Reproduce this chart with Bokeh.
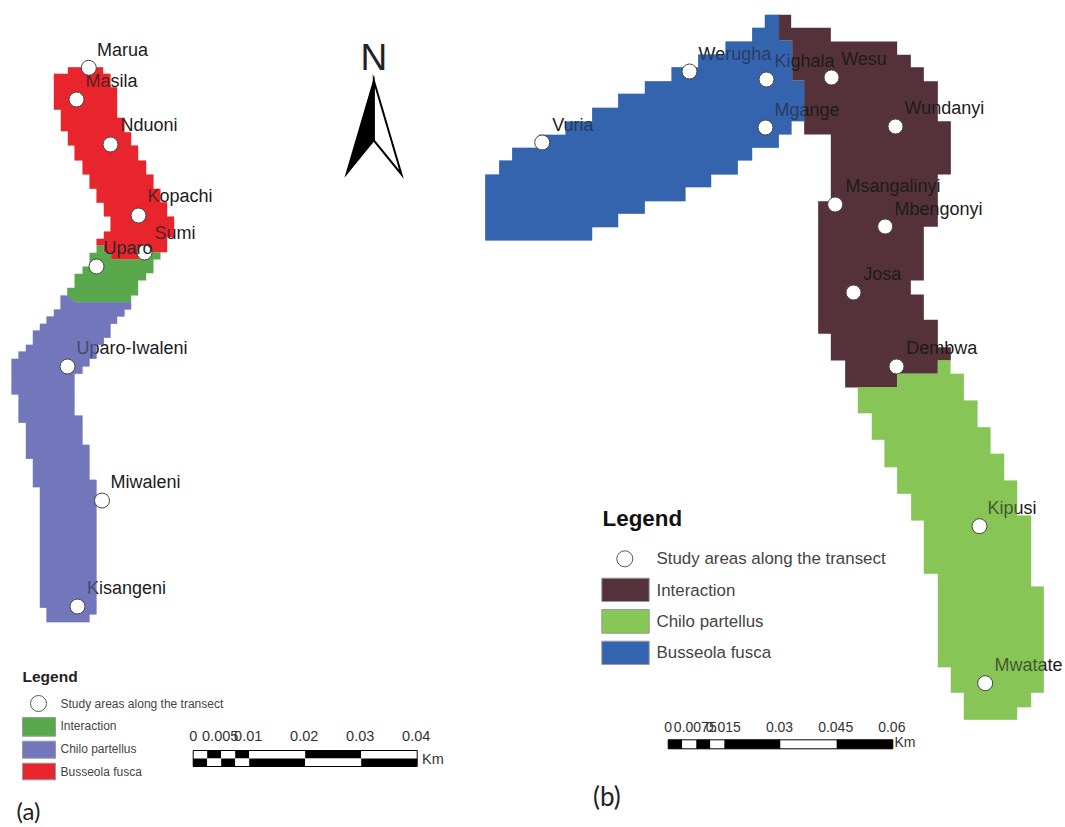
from bokeh.plotting import figure
from bokeh.core.properties import value
from bokeh.embed import file_html
from bokeh.resources import INLINE

# ---- map outlines, traced as (x, y) on the picture ----
BUSSEOLA_A = [(202,110),(308,110),(308,130),(330,130),(330,170),(350,170),(350,262),(372,262),(372,305),(392,305),(392,345),(413,345),(413,390),(437,390),(437,432),(459,432),(459,475),(480,475),(480,515),(500,515),(500,558),(521,558),(521,620),(500,620),(500,665),(415,665),(415,687),(332,687),(332,665),(310,665),(310,645),(288,645),(288,625),(310,625),(310,603),(330,603),(330,558),(310,558),(310,517),(288,517),(288,475),(267,475),(267,432),(246,432),(246,390),(222,390),(222,345),(202,345),(202,302),(181,302),(181,238),(160,238),(160,130),(202,130)]
INTERACTION_A = [(288,645),(310,645),(310,665),(332,665),(332,687),(415,687),(415,665),(480,665),(480,687),(459,687),(459,728),(437,728),(437,750),(413,750),(413,795),(392,795),(392,815),(225,815),(200,795),(200,772),(222,772),(222,730),(246,730),(246,708),(267,708),(267,667),(288,667)]
CHILO_A = [(180,15),(202,15),(225,35),(392,35),(392,57),(372,57),(372,78),(350,78),(350,100),(330,100),(330,142),(310,142),(310,163),(288,163),(288,205),(267,205),(267,228),(246,228),(246,250),(222,250),(222,375),(246,375),(246,463),(267,463),(267,568),(288,568),(288,972),(267,972),(267,995),(138,995),(138,952),(118,952),(118,590),(97,590),(97,505),(76,505),(76,397),(54,397),(54,312),(33,312),(33,205),(54,205),(54,183),(76,183),(76,163),(97,163),(97,120),(118,120),(118,100),(138,100),(138,78),(160,78),(160,57),(180,57)]
BUSSEOLA_B = [(44,705),(44,507),(86,507),(86,465),(125,465),(125,427),(205,427),(205,388),(285,388),(285,348),(365,348),(365,307),(443,307),(443,265),(523,265),(523,227),(603,227),(603,185),(683,185),(683,147),(765,147),(765,108),(845,108),(845,67),(883,67),(883,28),(927,28),(927,105),(965,105),(965,225),(1002,225),(1002,347),(963,347),(963,387),(925,387),(925,427),(845,427),(845,465),(802,465),(802,507),(722,507),(722,545),(645,545),(645,587),(523,587),(523,625),(443,625),(443,665),(365,665),(365,705)]
INTERACTION_B = [(55,28),(92,28),(92,67),(211,67),(211,108),(410,108),(410,148),(451,148),(451,185),(490,185),(490,227),(532,227),(532,347),(571,347),(571,507),(532,507),(532,664),(490,664),(490,825),(451,825),(451,867),(490,867),(490,943),(532,943),(532,1025),(571,1025),(571,1065),(532,1065),(532,1105),(410,1105),(410,1146),(254,1146),(254,1065),(211,1065),(211,985),(173,985),(173,587),(211,587),(211,387),(131,387),(131,225),(95,225),(95,105),(55,105)]
CHILO_B = [(52,110),(170,110),(170,70),(292,70),(292,30),(330,30),(330,70),(370,70),(370,150),(411,150),(411,230),(450,230),(450,310),(491,310),(491,390),(530,390),(530,495),(572,495),(572,708),(610,708),(610,1027),(572,1027),(572,1070),(530,1070),(530,1108),(370,1108),(370,1027),(331,1027),(331,950),(292,950),(292,670),(250,670),(250,510),(212,510),(212,430),(170,430),(170,350),(132,350),(132,268),(94,268),(94,188),(52,188)]

ARROW_LEFT = [(373.3,80),(345.7,174),(373.3,140)]
ARROW_RIGHT = [(373.3,80),(401,174),(373.3,140)]

# ---- study areas: name, marker x, marker y, label x, label baseline y ----
NAMES_A = ["Marua","Masila","Nduoni","Kopachi","Sumi","Uparo-Iwaleni","Miwaleni","Kisangeni"]
MX_A = [88.3,76,110,138,144,67,101.5,77]
MY_A = [67.3,99,144,215,252,366,500,606]
LX_A = [96.5,85,120,147,154,76,110,86.5]
LY_A = [56,87.3,131,202.7,239,354,488,594]
TOP_NAME_A, TOP_MX_A, TOP_MY_A, TOP_LX_A, TOP_LY_A = "Uparo", 96, 266, 103, 254

NAMES_B = ["Vuria","Werugha","Kighala","Mgange","Wesu","Wundanyi","Msangalinyi","Mbengonyi","Josa","Dembwa","Kipusi","Mwatate"]
MX_B = [541.7,689,766,765,831,895,834.7,884.7,853,896,979,984.7]
MY_B = [142,71,79,127,77,126,204,226,292,366,525.7,682.7]
LX_B = [551.7,698,774,774,840.7,904,845,894,862.7,905.7,987,994]
LY_B = [131,60,67,116,65.7,114,192.7,215,280,354,514,671.7]

LEGEND_LABELS = ["Study areas along the transect","Interaction","Chilo partellus","Busseola fusca"]

# ---- scale bars (km) ----
SCALE_A_EDGES = [0,0.0025,0.005,0.0075,0.01,0.02,0.03,0.04]
SCALE_A_TICKS = [0,0.005,0.01,0.02,0.03,0.04]
SCALE_A_TEXT = ["0","0.005","0.01","0.02","0.03","0.04"]
SCALE_B_EDGES = [0,0.00375,0.0075,0.01125,0.015,0.03,0.045,0.06]
SCALE_B_TICKS = [0,0.0075,0.015,0.03,0.045,0.06]
SCALE_B_TEXT = ["0","0.0075","0.015","0.03","0.045","0.06"]

RED, GREEN_A, PURPLE = "#E8262D", "#5AA84C", "#7276BB"
BLUE, BROWN, GREEN_B = "#3564B0", "#55323A", "#87C657"
TXT = "#1c1c1c"
FONT = value("Liberation Sans")
BASELINE_SHIFT = 0.38

W, H = 1065, 827
p = figure(width=W, height=H, x_range=(0, W), y_range=(H, 0),
           output_backend="svg", toolbar_location=None, min_border=0,
           outline_line_color=None, background_fill_color="white", border_fill_color="white")
p.axis.visible = False
p.grid.visible = False


def poly(points, ox, oy, color, alpha=1.0):
    xs = [a / 3 + ox for a, _ in points]
    ys = [b / 3 + oy for _, b in points]
    p.patch(xs, ys, fill_color=color, fill_alpha=alpha, line_color=None)


def label(x, y, t, size, color=TXT, style="normal", font=FONT, align="left"):
    p.text([x], [y - BASELINE_SHIFT * size], text=[t], text_font=font, text_font_size=f"{size}px", text_color=color,
           text_baseline="alphabetic", text_align=align, text_font_style=style)


def swatch(x0, x1, y0, y1, color):
    p.quad(left=[x0], right=[x1], top=[y0], bottom=[y1], fill_color=color, line_color="#999999", line_width=1)


shapes = [(BUSSEOLA_A,0,30,RED,0.3),(INTERACTION_A,0,30,GREEN_A,0.0),(CHILO_A,0,290,PURPLE,0.5),
          (BUSSEOLA_B,470,5,BLUE,0.45),(INTERACTION_B,760,5,BROWN,0.0),(CHILO_B,840,350,GREEN_B,0.35)]

for pts, ox, oy, c, _ in shapes:
    poly(pts, ox, oy, c)

# labels sit under a veil of the region colour, so they tint where they overlap a region
for names, xs, ys in ((NAMES_A, LX_A, LY_A), (NAMES_B, LX_B, LY_B)):
    for n, x, y in zip(names, xs, ys):
        label(x, y, n, 18)

for pts, ox, oy, c, veil in shapes:
    if veil:
        poly(pts, ox, oy, c, veil)

p.scatter(MX_A + [TOP_MX_A] + MX_B, MY_A + [TOP_MY_A] + MY_B, size=15, marker="circle",
          fill_color="white", line_color="#444444", line_width=1)
label(TOP_LX_A, TOP_LY_A, TOP_NAME_A, 18, color="#2a2a2a")

# north arrow
label(360, 70.7, "N", 37, color="#222222")
p.patch([a for a, _ in ARROW_RIGHT], [b for _, b in ARROW_RIGHT], fill_color="white", line_color="black", line_width=2, line_join="miter")
p.patch([a for a, _ in ARROW_LEFT], [b for _, b in ARROW_LEFT], fill_color="black", line_color="black", line_width=1.5, line_join="miter")

# legend (a)
label(22, 682, "Legend", 15.5, color="#222222", style="bold")
p.scatter([38], [703], size=16, marker="circle", fill_color="white", line_color="#555555", line_width=1)
for t, y in zip(LEGEND_LABELS, [708, 730, 753, 775.6]):
    label(60, y, t, 12, color="#444444")
swatch(22, 55, 717, 735.7, GREEN_A)
swatch(22, 55, 740.7, 757.7, PURPLE)
swatch(22, 55, 762.7, 779.3, RED)

# legend (b)
label(602, 526.7, "Legend", 22.4, color="#111111", style="bold")
p.scatter([624.3], [558.3], size=16, marker="circle", fill_color="white", line_color="#555555", line_width=1)
for t, y in zip(LEGEND_LABELS, [564, 596, 627.3, 658.3]):
    label(656, y, t, 16.9, color="#444444")
swatch(601.3, 648.7, 577.7, 601, BROWN)
swatch(601.3, 648.7, 609, 632.7, GREEN_B)
swatch(601.3, 648.7, 640.7, 664, BLUE)

# scale bar (a): two rows of alternating segments
ka, xa = (416.7 - 192.7) / SCALE_A_EDGES[-1], 192.7
for i in range(len(SCALE_A_EDGES) - 1):
    l, r = xa + ka * SCALE_A_EDGES[i], xa + ka * SCALE_A_EDGES[i + 1]
    up, lo = ("white", "black") if i % 2 == 0 else ("black", "white")
    p.quad(left=[l], right=[r], top=[750], bottom=[758], fill_color=up, line_color=None)
    p.quad(left=[l], right=[r], top=[758], bottom=[766], fill_color=lo, line_color=None)
p.quad(left=[xa], right=[xa + ka * SCALE_A_EDGES[-1]], top=[750], bottom=[766], fill_color=None, line_color="black", line_width=1)
for v, t in zip(SCALE_A_TICKS, SCALE_A_TEXT):
    label(xa + ka * v - (1 if v else 0), 741, t, 14.5, color="#333333", align="center")
label(421.5, 764.3, "Km", 14.5, color="#333333")

# scale bar (b): one row
kb, xb = (892.3 - 667.7) / SCALE_B_EDGES[-1], 667.7
for i in range(len(SCALE_B_EDGES) - 1):
    p.quad(left=[xb + kb * SCALE_B_EDGES[i]], right=[xb + kb * SCALE_B_EDGES[i + 1]], top=[739.3], bottom=[748.3],
           fill_color="black" if i % 2 == 0 else "white", line_color=None)
p.quad(left=[xb], right=[xb + kb * SCALE_B_EDGES[-1]], top=[739.3], bottom=[748.3], fill_color=None, line_color="black", line_width=1)
for v, t in zip(SCALE_B_TICKS, SCALE_B_TEXT):
    label(xb + kb * v - (1 if v else 0), 731.7, t, 14, color="#333333", align="center")
label(894, 746.7, "Km", 14, color="#333333")

# panel letters
label(16, 819, "(a)", 24, color="#222222", font=value("Lato"))
label(592.5, 805, "(b)", 26, color="#222222", font=value("Lato"))

open("out.html", "w").write(file_html(p, INLINE))
